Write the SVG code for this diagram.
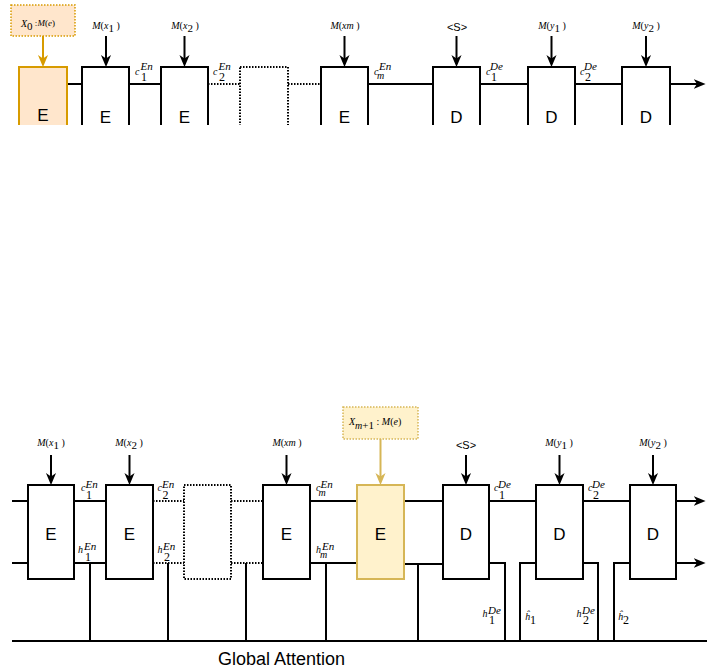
<svg xmlns="http://www.w3.org/2000/svg" width="707" height="668" viewBox="0 0 707 668">
<style>
.box{fill:#fff;stroke:#000;stroke-width:2}
.dot{fill:none;stroke:#000;stroke-width:2;stroke-dasharray:1.5 1.5}
.ln{fill:none;stroke:#000;stroke-width:2}
.arr{fill:none;stroke:#000;stroke-width:2;marker-end:url(#ah)}
.big{font-family:"Liberation Sans",Arial,sans-serif;font-size:17px;text-anchor:middle;fill:#000}
.mi{font-family:"Liberation Serif","Times New Roman",serif;font-style:italic;font-size:10px;fill:#000}
.up{font-style:normal}
.sup{font-family:"Liberation Serif","Times New Roman",serif;font-style:italic;font-size:11px;fill:#000}
.sub{font-family:"Liberation Serif","Times New Roman",serif;font-size:12px;fill:#000}
.s{font-family:"Liberation Sans",Arial,sans-serif;font-size:11px;text-anchor:middle;fill:#000}
.ga{font-family:"Liberation Sans",Arial,sans-serif;font-size:18px;text-anchor:middle;fill:#000}
</style>
<defs>
<marker id="ah" viewBox="0 0 10 10" refX="7" refY="5" markerWidth="12" markerHeight="12" markerUnits="userSpaceOnUse" orient="auto"><path d="M0,0.8 L10,5 L0,9.2 L2.8,5 Z" fill="#000"/></marker>
<marker id="aho" viewBox="0 0 10 10" refX="7" refY="5" markerWidth="12" markerHeight="12" markerUnits="userSpaceOnUse" orient="auto"><path d="M0,0.8 L10,5 L0,9.2 L2.8,5 Z" fill="#d79b00"/></marker>
<marker id="ahy" viewBox="0 0 10 10" refX="7" refY="5" markerWidth="12" markerHeight="12" markerUnits="userSpaceOnUse" orient="auto"><path d="M0,0.8 L10,5 L0,9.2 L2.8,5 Z" fill="#d6b656"/></marker>
<clipPath id="topclip"><rect x="0" y="0" width="707" height="125"/></clipPath>
</defs>

<!-- ===== TOP PANEL ===== -->
<g clip-path="url(#topclip)">
<g id="connectors-top">
<path class="ln" d="M67,84 H82"/>
<path class="ln" d="M129,84 H161"/>
<path class="dot" d="M208,84 H240"/>
<path class="dot" d="M288,84 H321"/>
<path class="ln" d="M368,84 H433"/>
<path class="ln" d="M480,84 H528"/>
<path class="ln" d="M575,84 H622"/>
<path class="arr" d="M670,84 H702"/>
<path d="M43,36 V63.5" fill="none" stroke="#d79b00" stroke-width="2" marker-end="url(#aho)"/>
<path class="arr" d="M106,36 V63.5"/>
<path class="arr" d="M184.5,36 V63.5"/>
<path class="arr" d="M344.5,36 V63.5"/>
<path class="arr" d="M456.5,36 V63.5"/>
<path class="arr" d="M551.5,36 V63.5"/>
<path class="arr" d="M646,36 V63.5"/>
</g>
<g id="t-e0"><rect x="19" y="67" width="48" height="94" fill="#ffe6cc" stroke="#d79b00" stroke-width="2"/><text class="big" x="43" y="121">E</text></g>
<g id="t-e1"><rect class="box" x="82" y="67" width="47" height="94"/><text class="big" x="105.5" y="123">E</text></g>
<g id="t-e2"><rect class="box" x="161" y="67" width="47" height="94"/><text class="big" x="184.5" y="123">E</text></g>
<g id="t-dots"><rect class="dot" x="240" y="67" width="48" height="94"/></g>
<g id="t-em"><rect class="box" x="321" y="67" width="47" height="94"/><text class="big" x="344.5" y="123">E</text></g>
<g id="t-d1"><rect class="box" x="433" y="67" width="47" height="94"/><text class="big" x="456.5" y="123">D</text></g>
<g id="t-d2"><rect class="box" x="528" y="67" width="47" height="94"/><text class="big" x="551.5" y="123">D</text></g>
<g id="t-d3"><rect class="box" x="622" y="67" width="48" height="94"/><text class="big" x="646" y="123">D</text></g>
</g>

<g id="t-x0">
<rect x="11" y="5" width="64" height="31" fill="#ffe6cc" stroke="#d79b00" stroke-width="1.5" stroke-dasharray="1.5 1.5"/>
<text class="mi" x="21" y="27" font-size="11">X<tspan class="up" font-size="11" dy="3">0</tspan><tspan font-size="9" dy="-4"> </tspan><tspan class="up" font-size="9">:</tspan><tspan font-size="9">M</tspan><tspan class="up" font-size="9">(</tspan><tspan font-size="9">e</tspan><tspan class="up" font-size="9">)</tspan></text>
</g>

<g id="t-labels">
<text class="mi" x="106" y="29" text-anchor="middle">M<tspan class="up">(</tspan>x<tspan class="up" font-size="11" dy="3">1</tspan><tspan class="up" dy="-3"> )</tspan></text>
<text class="mi" x="185" y="29" text-anchor="middle">M<tspan class="up">(</tspan>x<tspan class="up" font-size="11" dy="3">2</tspan><tspan class="up" dy="-3"> )</tspan></text>
<text class="mi" x="345" y="29" text-anchor="middle">M<tspan class="up">(</tspan>xm<tspan class="up"> )</tspan></text>
<text class="s" x="457" y="31">&lt;S&gt;</text>
<text class="mi" x="552" y="29" text-anchor="middle">M<tspan class="up">(</tspan>y<tspan class="up" font-size="11" dy="3">1</tspan><tspan class="up" dy="-3"> )</tspan></text>
<text class="mi" x="646" y="29" text-anchor="middle">M<tspan class="up">(</tspan>y<tspan class="up" font-size="11" dy="3">2</tspan><tspan class="up" dy="-3"> )</tspan></text>

<text class="mi" x="135" y="75">c</text><text class="sup" x="140.5" y="70">En</text><text class="sub" x="141" y="81">1</text>
<text class="mi" x="213" y="75">c</text><text class="sup" x="218.5" y="70">En</text><text class="sub" x="219" y="81">2</text>
<text class="mi" x="374" y="75">c</text><text class="sup" x="379" y="70">En</text><text class="mi" x="377" y="79">m</text>
<text class="mi" x="486" y="75">c</text><text class="sup" x="490" y="70">De</text><text class="sub" x="491" y="81">1</text>
<text class="mi" x="580" y="75">c</text><text class="sup" x="584" y="70">De</text><text class="sub" x="585" y="81">2</text>
</g>

<!-- ===== BOTTOM PANEL ===== -->
<g id="connectors-bottom">
<path class="ln" d="M12,501 H28 M12,563 H28"/>
<path class="ln" d="M74,501 H106 M74,563 H106"/>
<path class="dot" d="M153,501 H184 M153,563 H184"/>
<path class="dot" d="M231,501 H263 M231,563 H263"/>
<path class="ln" d="M310,501 H357 M310,563 H357"/>
<path class="ln" d="M404,501 H443 M404,564 H443"/>
<path class="ln" d="M489,501 H536 M583,501 H630"/>
<path class="arr" d="M676,501 H702"/>
<path class="arr" d="M676,563 H702"/>
<path class="ln" d="M489,563 H505 V641"/>
<path class="ln" d="M520,641 V563 H536"/>
<path class="ln" d="M583,563 H598 V641"/>
<path class="ln" d="M614,641 V563 H630"/>
<path class="ln" d="M12,641 H707"/>
<path class="ln" d="M90,563 V641 M168,563 V641 M246,563 V641 M326,563 V641 M418,564 V641"/>
<path class="arr" d="M51,455 V481.5"/>
<path class="arr" d="M129.5,455 V481.5"/>
<path class="arr" d="M286.5,455 V481.5"/>
<path class="arr" d="M466,455 V481.5"/>
<path class="arr" d="M559.5,455 V481.5"/>
<path class="arr" d="M653,455 V481.5"/>
<path d="M380.5,439 V481.5" fill="none" stroke="#d6b656" stroke-width="2" marker-end="url(#ahy)"/>
</g>

<g id="b-e1"><rect class="box" x="28" y="485" width="46" height="94"/><text class="big" x="51" y="540">E</text></g>
<g id="b-e2"><rect class="box" x="106" y="485" width="47" height="94"/><text class="big" x="129.5" y="540">E</text></g>
<g id="b-dots"><rect class="dot" x="184" y="485" width="47" height="94"/></g>
<g id="b-em"><rect class="box" x="263" y="485" width="47" height="94"/><text class="big" x="286.5" y="540">E</text></g>
<g id="b-em1"><rect x="357" y="485" width="47" height="94" fill="#fff2cc" stroke="#d6b656" stroke-width="2"/><text class="big" x="380.5" y="540">E</text></g>
<g id="b-d1"><rect class="box" x="443" y="485" width="46" height="94"/><text class="big" x="466" y="540">D</text></g>
<g id="b-d2"><rect class="box" x="536" y="485" width="47" height="94"/><text class="big" x="559.5" y="540">D</text></g>
<g id="b-d3"><rect class="box" x="630" y="485" width="46" height="94"/><text class="big" x="653" y="540">D</text></g>

<g id="b-xm1">
<rect x="343" y="407" width="75" height="32" fill="#fff2cc" stroke="#d6b656" stroke-width="1.5" stroke-dasharray="1.5 1.5"/>
<text class="mi" x="349" y="425" font-size="11">X<tspan class="mi" font-size="11" dy="4">m</tspan><tspan class="up" font-size="11">+1</tspan><tspan font-size="10" dy="-4"> </tspan><tspan class="up" font-size="10">: </tspan><tspan font-size="10">M</tspan><tspan class="up" font-size="10">(</tspan><tspan font-size="10">e</tspan><tspan class="up" font-size="10">)</tspan></text>
</g>

<g id="b-labels">
<text class="mi" x="51" y="446" text-anchor="middle">M<tspan class="up">(</tspan>x<tspan class="up" font-size="11" dy="3">1</tspan><tspan class="up" dy="-3"> )</tspan></text>
<text class="mi" x="129" y="446" text-anchor="middle">M<tspan class="up">(</tspan>x<tspan class="up" font-size="11" dy="3">2</tspan><tspan class="up" dy="-3"> )</tspan></text>
<text class="mi" x="287" y="446" text-anchor="middle">M<tspan class="up">(</tspan>xm<tspan class="up"> )</tspan></text>
<text class="s" x="466" y="449">&lt;S&gt;</text>
<text class="mi" x="559" y="446" text-anchor="middle">M<tspan class="up">(</tspan>y<tspan class="up" font-size="11" dy="3">1</tspan><tspan class="up" dy="-3"> )</tspan></text>
<text class="mi" x="653" y="446" text-anchor="middle">M<tspan class="up">(</tspan>y<tspan class="up" font-size="11" dy="3">2</tspan><tspan class="up" dy="-3"> )</tspan></text>

<text class="mi" x="81" y="491">c</text><text class="sup" x="85.5" y="488">En</text><text class="sub" x="86" y="499">1</text>
<text class="mi" x="157.5" y="491">c</text><text class="sup" x="162" y="488">En</text><text class="sub" x="162.5" y="499">2</text>
<text class="mi" x="316" y="491">c</text><text class="sup" x="320.5" y="488">En</text><text class="mi" x="318.5" y="496">m</text>
<text class="mi" x="494" y="491">c</text><text class="sup" x="498" y="488">De</text><text class="sub" x="499" y="499">1</text>
<text class="mi" x="588" y="491">c</text><text class="sup" x="592" y="488">De</text><text class="sub" x="593" y="499">2</text>

<text class="mi" x="78" y="553">h</text><text class="sup" x="84" y="550">En</text><text class="sub" x="85" y="561">1</text>
<text class="mi" x="157.5" y="553">h</text><text class="sup" x="163" y="550">En</text><text class="sub" x="164" y="561">2</text>
<text class="mi" x="316" y="553">h</text><text class="sup" x="322" y="550">En</text><text class="mi" x="320" y="558">m</text>

<text class="mi" x="482.5" y="617">h</text><text class="sup" x="488" y="614">De</text><text class="sub" x="489" y="624">1</text>
<text class="mi" x="525" y="620">ĥ</text><text class="sub" x="530" y="624" font-size="11">1</text>
<text class="mi" x="576.5" y="617">h</text><text class="sup" x="582" y="614">De</text><text class="sub" x="583" y="624">2</text>
<text class="mi" x="618" y="620">ĥ</text><text class="sub" x="623" y="624" font-size="11">2</text>
</g>

<g id="global-attention"><text class="ga" x="281.5" y="665">Global Attention</text></g>
</svg>
